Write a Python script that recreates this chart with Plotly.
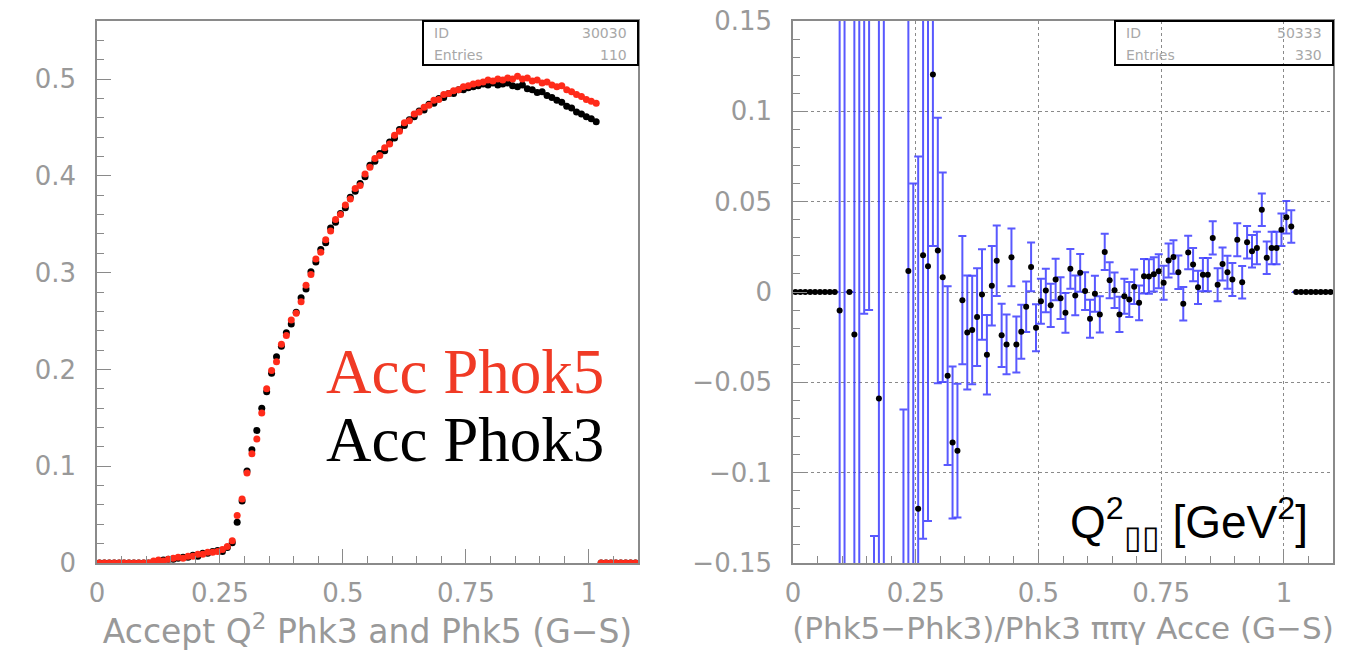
import plotly.graph_objects as go

W, H = 1356, 655

# ---------------- data ----------------
N_BINS = 110
BIN_W = 0.01
bin_centers = [round((i + 0.5) * BIN_W, 3) for i in range(N_BINS)]

# Left panel: acceptance vs Q^2, bins 0.115 ... 1.015 (others empty)
LEFT_FIRST_BIN = 11
acc_phok3_vals = [
    0.001, 0.002, 0.003, 0.004, 0.004, 0.005, 0.006, 0.006, 0.008, 0.007,
    0.010, 0.010, 0.012, 0.013, 0.012, 0.016, 0.021, 0.042, 0.064, 0.095,
    0.117, 0.137, 0.160, 0.177, 0.196, 0.213, 0.224, 0.238, 0.247, 0.259,
    0.274, 0.283, 0.301, 0.311, 0.324, 0.331, 0.346, 0.352, 0.361, 0.367,
    0.378, 0.384, 0.392, 0.399, 0.411, 0.415, 0.423, 0.426, 0.435, 0.439,
    0.448, 0.452, 0.458, 0.461, 0.467, 0.468, 0.474, 0.475, 0.480, 0.481,
    0.485, 0.485, 0.489, 0.489, 0.491, 0.492, 0.493, 0.495, 0.494, 0.496,
    0.494, 0.495, 0.496, 0.493, 0.492, 0.494, 0.490, 0.489, 0.486, 0.487,
    0.483, 0.481, 0.478, 0.476, 0.472, 0.470, 0.466, 0.464, 0.461, 0.459,
    0.456,
]
acc_phok5_vals = [
    0.002, 0.003, 0.002, 0.004, 0.005, 0.006, 0.005, 0.007, 0.007, 0.009,
    0.009, 0.011, 0.011, 0.012, 0.014, 0.017, 0.023, 0.049, 0.066, 0.093,
    0.113, 0.128, 0.155, 0.180, 0.199, 0.208, 0.226, 0.235, 0.251, 0.258,
    0.270, 0.287, 0.298, 0.314, 0.321, 0.334, 0.343, 0.355, 0.360, 0.370,
    0.376, 0.387, 0.390, 0.402, 0.409, 0.418, 0.421, 0.429, 0.433, 0.442,
    0.446, 0.455, 0.457, 0.464, 0.466, 0.471, 0.473, 0.478, 0.479, 0.484,
    0.485, 0.488, 0.489, 0.492, 0.493, 0.495, 0.496, 0.497, 0.499, 0.498,
    0.500, 0.499, 0.501, 0.500, 0.503, 0.500, 0.501, 0.498, 0.499, 0.496,
    0.497, 0.494, 0.492, 0.493, 0.489, 0.487, 0.484, 0.482, 0.479, 0.477,
    0.475,
]

# Right panel: relative difference, bins 0.095 ... 1.015 (others empty)
RIGHT_FIRST_BIN = 9
ratio_vals = [
    -0.0102, 0.30, 0.0, -0.0235, 0.35, 0.25, 0.30, -0.35, -0.059, 0.20,
    None, None, None, -0.26, 0.0116, -0.25, -0.12, 0.0204, 0.0143, 0.1204,
    0.023, 0.0082, -0.0463, -0.0833, -0.0878, -0.0045, -0.0224, -0.021, -0.0139, -0.0014,
    -0.0347, 0.0035, 0.0173,
    -0.024, -0.029, 0.0192, -0.029, -0.022, -0.0082, 0.0139, -0.0198, -0.0051, 0.0008,
    -0.0074, 0.0069, -0.0034, -0.0115, 0.0128, -0.0019, 0.0106, 0.0005, -0.0148, -0.001,
    -0.0124, 0.0222, 0.0065, 0.001, -0.0124, -0.0023, -0.0041, 0.0029, -0.006, 0.0087,
    0.0086, 0.0098, 0.0115, 0.0051, 0.0174, 0.0194, 0.0109, -0.0065, 0.0219, 0.0152,
    0.0026, 0.0096, 0.0096, 0.0299, 0.004, 0.0155, 0.0109, 0.0069, 0.0289, 0.0054,
    0.0275, 0.0225, 0.0244, 0.0455, 0.0189, 0.0244, 0.0244, 0.0345, 0.0414, 0.0363,
]
ratio_errs = [
    0.40, 0.50, 0.0, 0.40, 0.55, 0.262, 0.31, 0.215, 0.30, 0.45,
    0.0, 0.0, 0.0, 0.195, 0.20, 0.31, 0.195, 0.157, 0.141, 0.095,
    0.0735, 0.058, 0.0495, 0.042, 0.037, 0.0355, 0.0315, 0.030, 0.027, 0.025,
    0.022, 0.022, 0.0195,
    0.0175, 0.0165, 0.016, 0.0155, 0.015, 0.014, 0.0135, 0.013, 0.0125, 0.012,
    0.012, 0.0115, 0.0115, 0.011, 0.011, 0.011, 0.0105, 0.0105, 0.0105, 0.010,
    0.010, 0.010, 0.010, 0.0098, 0.0098, 0.0097, 0.0097, 0.0096, 0.0096, 0.0095,
    0.0095, 0.0095, 0.0094, 0.0094, 0.0094, 0.0093, 0.0093, 0.0093, 0.0093, 0.0092,
    0.0092, 0.0092, 0.0092, 0.0092, 0.0091, 0.0091, 0.0091, 0.0091, 0.0091, 0.009,
    0.009, 0.009, 0.009, 0.009, 0.009, 0.009, 0.009, 0.009, 0.009, 0.009,
]


def pad(vals, first):
    return [0.0] * first + vals + [0.0] * (N_BINS - first - len(vals))


acc_phok3 = pad(acc_phok3_vals, LEFT_FIRST_BIN)
acc_phok5 = pad(acc_phok5_vals, LEFT_FIRST_BIN)
ratio = pad(ratio_vals, RIGHT_FIRST_BIN)
ratio_err = pad(ratio_errs, RIGHT_FIRST_BIN)

# ---------------- styling helpers ----------------
def px(x):
    return x / W


def py(y):
    return 1 - y / H


RED = "#ff2b1a"
BLUE = "rgba(60,60,255,0.85)"
GREY = "#8a8a8a"
TXTGREY = "#999999"
AXFONT = dict(family="DejaVu Sans", size=26, color=TXTGREY)

fig = go.Figure()

fig.add_trace(go.Scatter(
    x=bin_centers, y=acc_phok3, mode="markers", name="Acc Phok3",
    marker=dict(color="black", size=7, symbol="circle"),
    xaxis="x", yaxis="y", showlegend=False))
fig.add_trace(go.Scatter(
    x=bin_centers, y=acc_phok5, mode="markers", name="Acc Phok5",
    marker=dict(color=RED, size=7, symbol="circle"),
    xaxis="x", yaxis="y", showlegend=False))
fig.add_trace(go.Scatter(
    x=bin_centers, y=ratio, mode="markers", name="ratio",
    marker=dict(color="black", size=6, symbol="circle"),
    error_y=dict(type="data", array=ratio_err, color=BLUE, thickness=2, width=4),
    xaxis="x2", yaxis="y2", showlegend=False))

common = dict(
    showline=True, linecolor=GREY, linewidth=1.5, mirror=True,
    ticks="inside", tickcolor=GREY, tickwidth=1, ticklen=14,
    zeroline=False, tickfont=AXFONT, automargin=False,
)

y_dom = [py(563), py(21)]

fig.update_layout(
    width=W, height=H,
    margin=dict(l=0, r=0, t=0, b=0),
    paper_bgcolor="white", plot_bgcolor="white",
    xaxis=dict(
        domain=[px(97), px(638)], anchor="y", range=[0, 1.1],
        tickmode="linear", tick0=0, dtick=0.25, showgrid=False,
        minor=dict(dtick=0.05, ticks="inside", ticklen=7, tickcolor=GREY),
        ticklabelstandoff=6,
        title=dict(text="Accept Q<sup>2</sup> Phk3 and Phk5 (G\u2212S)",
                   font=dict(family="DejaVu Sans", size=33, color=TXTGREY),
                   standoff=10),
        **common),
    yaxis=dict(
        domain=y_dom, anchor="x", range=[0, 0.56],
        tickmode="linear", tick0=0, dtick=0.1, showgrid=False,
        minor=dict(dtick=0.02, ticks="inside", ticklen=7, tickcolor=GREY),
        ticklabelstandoff=14,
        **common),
    xaxis2=dict(
        domain=[px(793), px(1333)], anchor="y2", range=[0, 1.1],
        tickmode="linear", tick0=0, dtick=0.25,
        showgrid=True, gridcolor="#8a8a8a", griddash="dot", gridwidth=1,
        minor=dict(dtick=0.05, ticks="inside", ticklen=7, tickcolor=GREY, showgrid=False),
        ticklabelstandoff=6,
        title=dict(text="(Phk5\u2212Phk3)/Phk3 \u03c0\u03c0\u03b3 Acce (G\u2212S)",
                   font=dict(family="DejaVu Sans", size=31, color=TXTGREY),
                   standoff=10),
        **common),
    yaxis2=dict(
        domain=y_dom, anchor="x2", range=[-0.15, 0.15],
        tickmode="linear", tick0=0, dtick=0.05,
        showgrid=True, gridcolor="#8a8a8a", griddash="dot", gridwidth=1,
        minor=dict(dtick=0.01, ticks="inside", ticklen=7, tickcolor=GREY, showgrid=False),
        ticklabelstandoff=14,
        **common),
)

# statistics boxes
for (x0, x1, hid, entries) in [(423, 638, "30030", "110"), (1115, 1333, "50333", "330")]:
    fig.add_shape(type="rect", xref="paper", yref="paper",
                  x0=px(x0), x1=px(x1), y0=py(65), y1=py(21),
                  line=dict(color="black", width=2), fillcolor="rgba(0,0,0,0)", layer="above")
    for label, val, yy in [("ID", hid, 33), ("Entries", entries, 55)]:
        fig.add_annotation(xref="paper", yref="paper", x=px(x0 + 9), y=py(yy),
                           text=label, showarrow=False, xanchor="left", yanchor="middle",
                           font=dict(family="DejaVu Sans", size=14, color="#a8a8a8"))
        fig.add_annotation(xref="paper", yref="paper", x=px(x1 - 9), y=py(yy),
                           text=val, showarrow=False, xanchor="right", yanchor="middle",
                           font=dict(family="DejaVu Sans", size=14, color="#a8a8a8"))

# in-plot labels
fig.add_annotation(xref="paper", yref="paper", x=px(465), y=py(372), text="Acc Phok5",
                   showarrow=False, xanchor="center", yanchor="middle",
                   font=dict(family="Liberation Serif", size=63, color="#f03a25"))
fig.add_annotation(xref="paper", yref="paper", x=px(465), y=py(440), text="Acc Phok3",
                   showarrow=False, xanchor="center", yanchor="middle",
                   font=dict(family="Liberation Serif", size=63, color="black"))
fig.add_annotation(xref="paper", yref="paper", x=px(1189), y=py(522),
                   text="Q<sup>2</sup><sub>\u25af\u25af</sub> [GeV<sup>2</sup>]",
                   showarrow=False, xanchor="center", yanchor="middle",
                   font=dict(family="Liberation Sans", size=46, color="black"))

fig.write_html("out.html")
